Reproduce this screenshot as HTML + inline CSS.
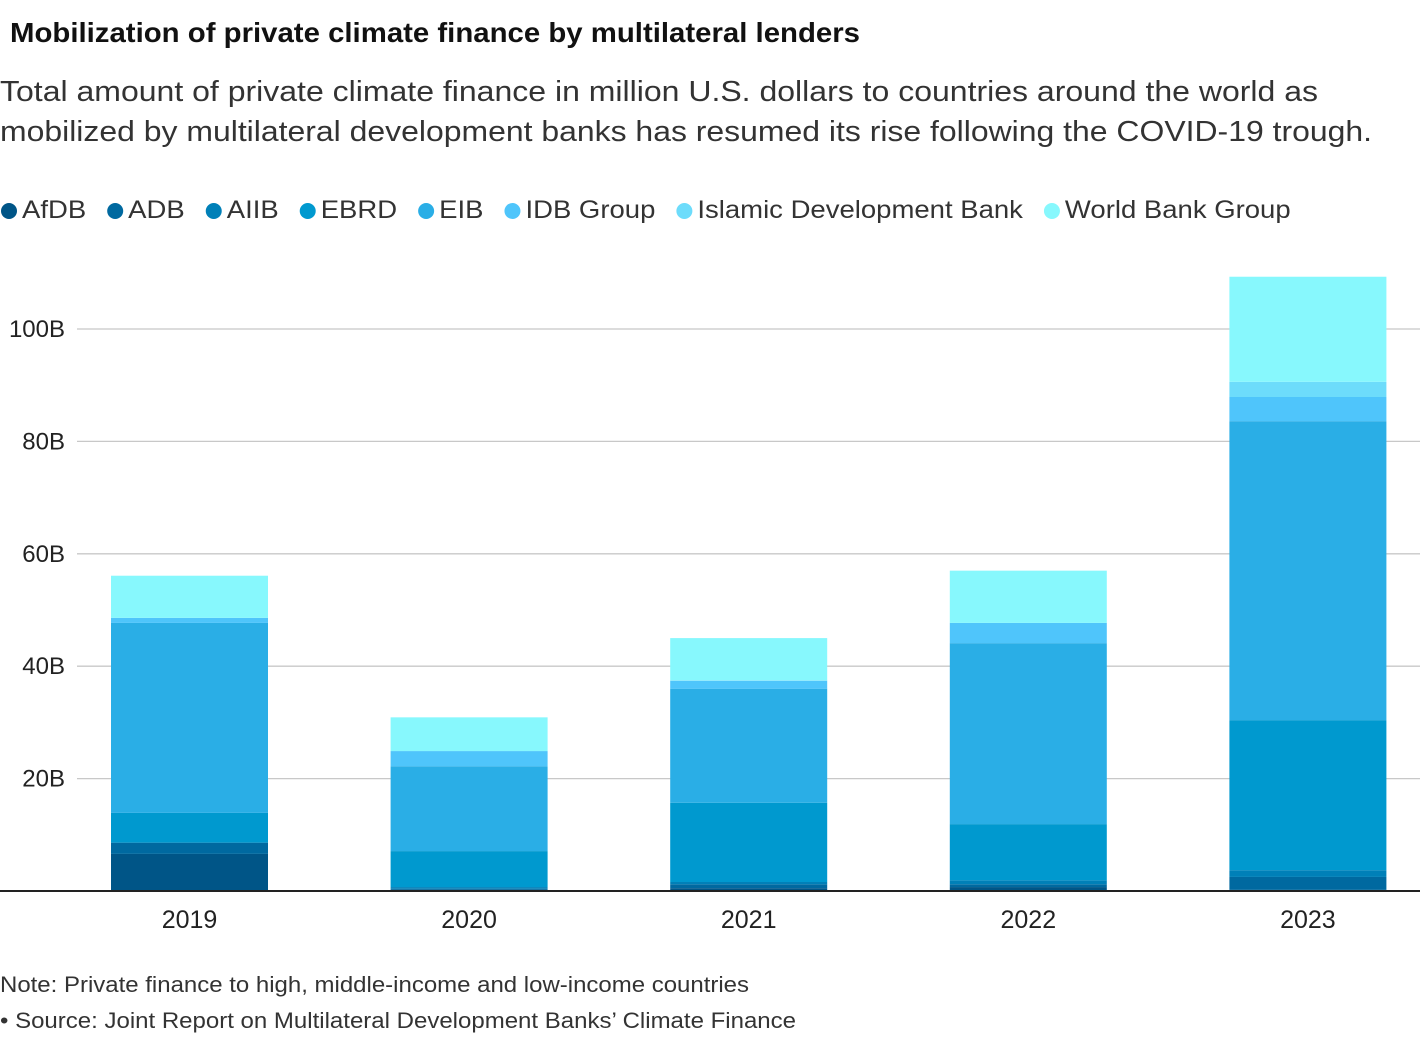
<!DOCTYPE html>
<html><head><meta charset="utf-8"><style>
body{margin:0;background:#fff;font-family:"Liberation Sans",Arial,sans-serif;}
</style></head><body>
<svg width="1420" height="1038" xmlns="http://www.w3.org/2000/svg" font-family="Liberation Sans, Arial, sans-serif">
<text x="10" y="42" font-size="28" font-weight="bold" fill="#111" textLength="850" lengthAdjust="spacingAndGlyphs">Mobilization of private climate finance by multilateral lenders</text>
<text x="0" y="101" font-size="29" fill="#333" textLength="1318" lengthAdjust="spacingAndGlyphs">Total amount of private climate finance in million U.S. dollars to countries around the world as</text>
<text x="0" y="141" font-size="29" fill="#333" textLength="1372" lengthAdjust="spacingAndGlyphs">mobilized by multilateral development banks has resumed its rise following the COVID-19 trough.</text>
<g id="legend"></g>
<g id="grid"></g><g id="bars"></g><g id="axis"></g>
<text x="0" y="992" font-size="22" fill="#333" textLength="749" lengthAdjust="spacingAndGlyphs">Note: Private finance to high, middle-income and low-income countries</text>
<text x="0" y="1028" font-size="22" fill="#333" textLength="796" lengthAdjust="spacingAndGlyphs">• Source: Joint Report on Multilateral Development Banks’ Climate Finance</text>
</svg>
<script>
const years=['2019','2020','2021','2022','2023'];
const series=['AfDB','ADB','AIIB','EBRD','EIB','IDB Group','Islamic Development Bank','World Bank Group'];
const colors=['#005587','#0069a0','#0080b8','#0099cf','#2aaee6','#4fc5fb','#6ddcfb','#87f8fd'];
const AfDB=[6.6,0.2,0.5,0.7,0.2];
const ADB=[2.0,0.2,0.7,0.5,2.3];
const AIIB=[0,0.3,0.4,0.7,1.2];
const EBRD=[5.3,6.4,14.1,10.0,26.7];
const EIB=[33.8,15.1,20.3,32.2,53.2];
const IDB=[0.9,2.7,1.4,3.6,4.3];
const IsDB=[0,0,0.1,0,2.7];
const WBG=[7.5,6.0,7.5,9.3,18.7];
const yTicks=[20,40,60,80,100];
const yTickLabels=['20B','40B','60B','80B','100B'];
const vals=[AfDB,ADB,AIIB,EBRD,EIB,IDB,IsDB,WBG];
const NS='http://www.w3.org/2000/svg';
const y0=891,pxPer=5.62;
const y=v=>y0-v*pxPer;
const xC=i=>189.5+i*279.6;
const bw=157;
function mk(t,a,p){const e=document.createElementNS(NS,t);for(const k in a)e.setAttribute(k,a[k]);p.appendChild(e);return e;}
const grid=document.getElementById('grid');
yTicks.forEach((t,i)=>{
 const l=mk('line',{x1:77,x2:1420,y1:y(t),y2:y(t),stroke:'#c8c8c8','stroke-width':1.3},grid);
 
 
 const tx=mk('text',{x:65,y:y(t)+8,'font-size':24,fill:'#222','text-anchor':'end'},grid);tx.textContent=yTickLabels[i];
 
 
});
const bars=document.getElementById('bars');
years.forEach((yr,i)=>{
 let acc=0;
 vals.forEach((s,j)=>{
  const v=s[i];if(v<=0)return;
  const r=mk('rect',{x:xC(i)-bw/2,y:y(acc+v),width:bw,height:v*pxPer,fill:colors[j]},bars);
  
  
  acc+=v;
 });
 const tx=mk('text',{x:xC(i),y:928,'font-size':25,fill:'#222','text-anchor':'middle'},bars);tx.textContent=yr;
 
 
});
const ax=mk('line',{x1:0,x2:1420,y1:y0,y2:y0,stroke:'#222','stroke-width':2},document.getElementById('axis'));


const lg=document.getElementById('legend');
let lx=0;
series.forEach((s,j)=>{
 const g=mk('g',{},lg);
 
 
 mk('circle',{cx:lx+9,cy:211,r:8,fill:colors[j]},g);
 const t=mk('text',{x:lx+22,y:218,'font-size':25,fill:'#333'},g);t.textContent=s;
 const w=t.getComputedTextLength()*1.1;
 t.setAttribute('textLength',w);
 t.setAttribute('lengthAdjust','spacingAndGlyphs');
 lx+=22+w+20;
});
</script>
</body></html>
